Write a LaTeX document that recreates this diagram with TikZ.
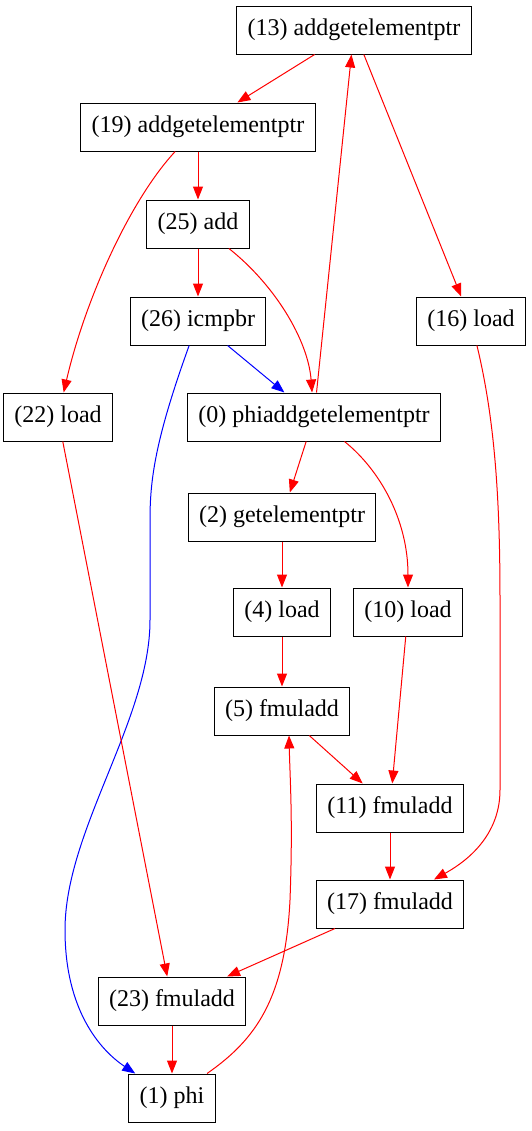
\documentclass[tikz,border=0pt]{standalone}
\usepackage{fontspec}
\setmainfont{Liberation Serif}
\usetikzlibrary{arrows.meta}

\begin{document}
\begin{tikzpicture}[
  x=0.5pt, y=-0.5pt,
  >={Triangle[length=6.5pt, width=5pt]},
  every node/.style={font=\fontsize{12}{14}\selectfont},
  op/.style={draw=black, line width=0.5pt, fill=white,
             minimum height=24pt, inner xsep=5.5pt, inner ysep=2pt},
  dep/.style={->, red, line width=0.5pt},
  ctl/.style={->, blue, line width=0.5pt}
]
\useasboundingbox (0,0) rectangle (531,1131);
\node[op] (n13) at (354,30)   {(13) addgetelementptr};
\node[op] (n19) at (198,127)  {(19) addgetelementptr};
\node[op] (n25) at (198,224)  {(25) add};
\node[op] (n26) at (198,321)  {(26) icmpbr};
\node[op] (n16) at (471,321)  {(16) load};
\node[op] (n22) at (58,417)   {(22) load};
\node[op] (n0)  at (314,417)  {(0) phiaddgetelementptr};
\node[op] (n2)  at (282,517)  {(2) getelementptr};
\node[op] (n4)  at (282,612)  {(4) load};
\node[op] (n10) at (408,612)  {(10) load};
\node[op] (n5)  at (282,711)  {(5) fmuladd};
\node[op] (n11) at (390,808)  {(11) fmuladd};
\node[op] (n17) at (390,904)  {(17) fmuladd};
\node[op] (n23) at (172,1001) {(23) fmuladd};
\node[op] (n1)  at (172,1098) {(1) phi};
\draw[dep] (n13) -- (n19);
\draw[dep] (n13) -- (n16);
\draw[dep] (n0) -- (n13);
\draw[dep] (n19) -- (n25);
\draw[dep] (n19) .. controls (130,200) and (85,300) .. (n22);
\draw[dep] (n25) -- (n26);
\draw[dep] (n25) .. controls (275,285) and (308,340) .. (n0);
\draw[ctl] (n26) -- (n0);
\draw[ctl] (n26) .. controls (155,440) and (150,480) .. (150,520)
  -- (150,620) .. controls (150,720) and (65,830) .. (65,930)
  .. controls (65,1010) and (100,1050) .. (n1);
\draw[dep] (n16) .. controls (495,420) and (500,500) .. (500,600)
  -- (500,790) .. controls (500,840) and (460,865) .. (n17);
\draw[dep] (n22) -- (n23);
\draw[dep] (n0) -- (n2);
\draw[dep] (n0) .. controls (380,470) and (408,520) .. (n10);
\draw[dep] (n2) -- (n4);
\draw[dep] (n4) -- (n5);
\draw[dep] (n10) -- (n11);
\draw[dep] (n5) -- (n11);
\draw[dep] (n11) -- (n17);
\draw[dep] (n17) -- (n23);
\draw[dep] (n23) -- (n1);
\draw[dep] (n1) .. controls (255,1040) and (285,1000) .. (290,900)
  .. controls (293,820) and (290,780) .. (n5.-74);
\end{tikzpicture}
\end{document}
